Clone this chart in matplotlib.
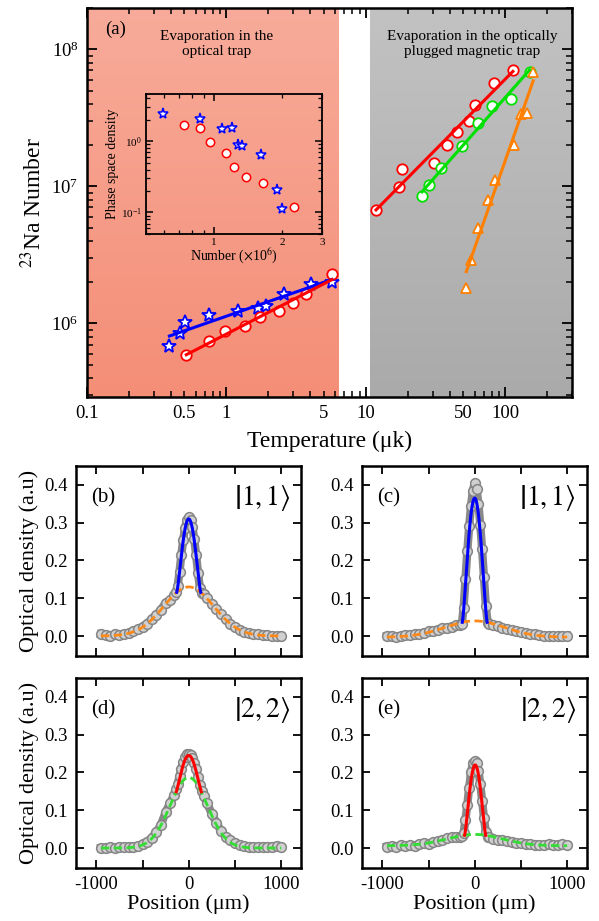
import numpy as np
import matplotlib.pyplot as plt
from matplotlib.colors import LinearSegmentedColormap
from matplotlib.ticker import FuncFormatter, NullFormatter, LogLocator

plt.rcParams['font.family'] = ['Liberation Serif', 'DejaVu Serif']
plt.rcParams['mathtext.fontset'] = 'stix'

# ---- panel (a): atom number vs temperature ----
star_T = [0.39, 0.467, 0.507, 0.755, 1.2, 1.67, 1.91, 2.57, 4.02, 5.7]
star_N = [6.8e5, 8.45e5, 1.02e6, 1.14e6, 1.22e6, 1.29e6, 1.33e6, 1.63e6, 1.93e6, 1.99e6]
circ_T = [0.515, 0.755, 0.97, 1.35, 1.73, 2.37, 2.98, 3.7, 5.7]
circ_N = [5.84e5, 7.4e5, 8.75e5, 9.5e5, 1.12e6, 1.22e6, 1.4e6, 1.63e6, 2.28e6]
red_T = [11.8, 17.2, 18.2, 30.7, 38, 44.9, 54.4, 60.1, 82.4, 113]
red_N = [6.7e6, 9.8e6, 1.33e7, 1.49e7, 1.99e7, 2.49e7, 3.0e7, 3.9e7, 5.65e7, 7.06e7]
green_T = [25.2, 28.5, 34.3, 49.1, 63.6, 80.2, 109, 149]
green_N = [8.5e6, 1.02e7, 1.35e7, 1.97e7, 2.92e7, 3.86e7, 4.37e7, 6.88e7]
tri_T = [52.4, 56.3, 63.6, 75, 83.8, 115, 130, 141.6, 158]
tri_N = [1.82e6, 2.9e6, 4.93e6, 7.9e6, 1.12e7, 2.0e7, 3.36e7, 3.45e7, 6.8e7]

# inset: phase space density vs number (x1e6)
psd_star_N = [0.593, 0.87, 1.08, 1.2, 1.28, 1.33, 1.61, 1.89, 2.0]
psd_star = [2.41, 2.05, 1.46, 1.54, 0.88, 0.85, 0.63, 0.207, 0.111]
psd_circ_N = [0.736, 0.867, 0.96, 1.13, 1.23, 1.39, 1.64, 2.26]
psd_circ = [1.71, 1.54, 0.97, 0.68, 0.434, 0.315, 0.26, 0.119]

# background regions (temperature bounds)
optical_region = (0.1, 6.3)
magnetic_region = (10.7, 300)

# ---- panels (b)-(e): density profiles ----
pos = np.r_[np.arange(-950, -199, 50), np.arange(-160, 161, 20), np.arange(200, 1001, 50)]
od_b = [0.005, 0.003, -0.001, 0.004, 0.002, 0.005, 0.008, 0.012, 0.018, 0.025, 0.033, 0.045, 0.056, 0.07, 0.088, 0.095,
        0.108, 0.116, 0.132, 0.17, 0.215, 0.255, 0.287, 0.307, 0.315, 0.308, 0.288, 0.256, 0.214, 0.168, 0.128, 0.115, 0.11,
        0.1, 0.086, 0.072, 0.057, 0.044, 0.033, 0.023, 0.016, 0.01, 0.008, 0.005, 0.004, 0.002, 0.002, 0.001, 0.0, 0.0]
od_c = [0.0, 0.001, -0.002, 0.0, 0.002, 0.003, 0.005, 0.006, 0.009, 0.012, 0.014, 0.017, 0.02, 0.022, 0.025, 0.028,
        0.029, 0.031, 0.075, 0.15, 0.225, 0.29, 0.345, 0.385, 0.405, 0.39, 0.35, 0.295, 0.23, 0.155, 0.08, 0.035, 0.031,
        0.03, 0.026, 0.022, 0.018, 0.015, 0.012, 0.01, 0.007, 0.005, 0.004, 0.002, 0.0, 0.001, 0.0, -0.001, 0.0, 0.001]
od_d = [0.0, 0.001, 0.002, 0.001, 0.003, 0.002, 0.003, 0.004, 0.006, 0.01, 0.017, 0.027, 0.042, 0.062, 0.095, 0.12,
        0.14, 0.155, 0.17, 0.19, 0.21, 0.228, 0.24, 0.248, 0.25, 0.247, 0.238, 0.226, 0.208, 0.188, 0.168, 0.152, 0.138,
        0.118, 0.09, 0.066, 0.045, 0.03, 0.02, 0.012, 0.008, 0.005, 0.003, 0.002, 0.003, 0.004, 0.003, 0.004, 0.006, 0.002]
od_e = [0.004, 0.006, 0.004, 0.007, 0.005, 0.008, 0.006, 0.01, 0.012, 0.011, 0.015, 0.018, 0.02, 0.026, 0.03, 0.028,
        0.03, 0.032, 0.04, 0.075, 0.115, 0.16, 0.2, 0.225, 0.23, 0.226, 0.205, 0.17, 0.125, 0.08, 0.042, 0.03, 0.028,
        0.025, 0.02, 0.022, 0.018, 0.016, 0.014, 0.012, 0.01, 0.01, 0.008, 0.009, 0.007, 0.01, 0.008, 0.009, 0.01, 0.008]

# bimodal fit parameters: (thermal amp, thermal sigma, offset), (condensate amp, radius, centre)
therm_b, cond_b = (0.13, 270, 0.0), (0.18, 130, 0)
therm_c, cond_c = (0.043, 320, -0.003), (0.325, 135, 0)
therm_d, cond_d = (0.187, 200, 0.0), (0.058, 135, 0)
therm_e, cond_e = (0.03, 300, 0.006), (0.184, 115, 5)

fig = plt.figure(figsize=(5.99, 9.21), dpi=100)

# ================= (a) =================
ax = fig.add_axes([0.1452, 0.569, 0.8098, 0.4223])
xmin, xmax, ymin, ymax = 0.1, 300, 2.9e5, 2.0e8


def band(ax, x0, x1, top, bottom):
    lx = np.log10([x0, x1])
    f = (lx - np.log10(xmin)) / (np.log10(xmax) - np.log10(xmin))
    cmap = LinearSegmentedColormap.from_list('g', [bottom, top])
    ax.imshow(np.linspace(0, 1, 256).reshape(-1, 1), cmap=cmap, origin='lower',
              extent=[f[0], f[1], 0, 1], transform=ax.transAxes, aspect='auto', zorder=0)


band(ax, *optical_region, '#f8ab9a', '#f48e77')
band(ax, *magnetic_region, '#c2c2c2', '#aaaaaa')


def powerfit(T, N):
    p = np.polyfit(np.log10(T), np.log10(N), 1)
    t = np.array([min(T), max(T)])
    return t, 10 ** np.polyval(p, np.log10(t))


mk = dict(ls='none', mfc='white', mew=1.3, zorder=3)
ax.plot(star_T, star_N, marker='*', ms=10, mec='#0000ff', **mk)
ax.plot(circ_T, circ_N, marker='o', ms=7.5, mec='#ff0000', **mk)
ax.plot(red_T, red_N, marker='o', ms=7.5, mec='#ff0000', **mk)
ax.plot(green_T, green_N, marker='o', ms=7.5, mec='#00e000', **mk)
ax.plot(tri_T, tri_N, marker='^', ms=7.5, mec='#ff8000', **mk)
for T, N, c in [(star_T, star_N, '#0000ff'), (circ_T, circ_N, '#ff0000'), (red_T, red_N, '#ff0000'),
                (green_T, green_N, '#00e000'), (tri_T, tri_N, '#ff8000')]:
    t, n = powerfit(T, N)
    ax.plot(t, n, color=c, lw=2.2, zorder=4)

ax.set_xscale('log')
ax.set_yscale('log')
ax.set_xlim(xmin, xmax)
ax.set_ylim(ymin, ymax)
ax.set_autoscale_on(False)
ax.xaxis.set_major_formatter(FuncFormatter(lambda v, p: f'{v:g}'))
ax.xaxis.set_minor_formatter(FuncFormatter(
    lambda v, p: f'{v:g}' if any(abs(v / m - 1) < 1e-6 for m in (0.5, 5, 50)) else ''))
ax.yaxis.set_minor_formatter(NullFormatter())
ax.tick_params(which='both', direction='in', top=True, right=True, labelsize=13.5, pad=6)
ax.tick_params(which='major', length=7, width=1.3)
ax.tick_params(which='minor', length=4, width=1.1)
for s in ax.spines.values():
    s.set_linewidth(1.8)
ax.set_xlabel('Temperature (μk)', fontsize=17, labelpad=6)
ax.set_ylabel(r'$^{23}$Na Number', fontsize=17, labelpad=4)
ax.text(0.037, 0.945, '(a)', transform=ax.transAxes, fontsize=13.5, va='center')
ax.text(0.268, 0.907, 'Evaporation in the\noptical trap', transform=ax.transAxes,
        fontsize=11, ha='center', va='center', linespacing=1.15)
ax.text(0.795, 0.907, 'Evaporation in the optically\nplugged magnetic trap', transform=ax.transAxes,
        fontsize=11, ha='center', va='center', linespacing=1.15)

# inset
axi = fig.add_axes([0.2437, 0.746, 0.2939, 0.152])
axi.patch.set_alpha(0)
axi.plot(psd_star_N, psd_star, marker='*', ms=8, mec='#0000ff', mfc='white', mew=1.1, ls='none')
axi.plot(psd_circ_N, psd_circ, marker='o', ms=6, mec='#ff0000', mfc='white', mew=1.1, ls='none')
axi.set_xscale('log')
axi.set_yscale('log')
axi.set_xlim(0.5, 3)
axi.set_ylim(0.05, 4.6)
axi.xaxis.set_major_formatter(FuncFormatter(lambda v, p: f'{v:g}'))
axi.xaxis.set_minor_locator(LogLocator(subs=np.arange(2, 10)))
axi.xaxis.set_minor_formatter(FuncFormatter(
    lambda v, p: f'{v:g}' if any(abs(v / m - 1) < 1e-6 for m in (2, 3)) else ''))
axi.yaxis.set_minor_formatter(NullFormatter())
axi.tick_params(which='both', direction='in', top=True, right=True, labelsize=8, pad=3)
axi.tick_params(which='major', length=5, width=1.1)
axi.tick_params(which='minor', length=3, width=0.9)
for s in axi.spines.values():
    s.set_linewidth(1.3)
axi.set_xlabel(r'Number ($\times$10$^6$)', fontsize=10, labelpad=0)
axi.set_ylabel('Phase space density', fontsize=10, labelpad=1)

# ================= (b)-(e) =================
def tf_profile(x, therm, cond):
    ta, ts, off = therm
    ca, cr, cx = cond
    g = ta * np.exp(-x ** 2 / (2 * ts ** 2)) + off
    u = np.clip(1 - ((x - cx) / cr) ** 2, 0, None)
    return g, g + ca * u ** 1.5


panels = [
    ('(b)', od_b, therm_b, cond_b, '#0000ff', '#ff8a1a', r'$\left|1,1\right\rangle$', [0.1269, 0.2877]),
    ('(c)', od_c, therm_c, cond_c, '#0000ff', '#ff8a1a', r'$\left|1,1\right\rangle$', [0.6043, 0.2877]),
    ('(d)', od_d, therm_d, cond_d, '#ff0000', '#33dd33', r'$\left|2,2\right\rangle$', [0.1269, 0.0575]),
    ('(e)', od_e, therm_e, cond_e, '#ff0000', '#33dd33', r'$\left|2,2\right\rangle$', [0.6043, 0.0575]),
]
for i, (lab, od, therm, cond, ccol, tcol, ket, (x0, y0)) in enumerate(panels):
    bx = fig.add_axes([x0, y0, 0.3764, 0.2063])
    bx.plot(pos, od, color='#8a8a8a', lw=6, marker='o', ms=7, mfc='#d0d0d0', mec='#858585', mew=1.1, zorder=2)
    xf = np.linspace(-950, 1000, 400)
    g, tot = tf_profile(xf, therm, cond)
    bx.plot(xf, g, color=tcol, lw=2, dashes=(3, 1.6), zorder=3)
    ca, cr, cx = cond
    xc = np.linspace(cx - cr, cx + cr, 200)
    g, tot = tf_profile(xc, therm, cond)
    bx.plot(xc, tot, color=ccol, lw=2.2, zorder=4)
    bx.set_xlim(-1220, 1220)
    bx.set_ylim(-0.053, 0.45)
    bx.set_xticks([-1000, -500, 0, 500, 1000], ['-1000', '', '0', '', '1000'])
    bx.set_yticks([0, 0.1, 0.2, 0.3, 0.4], ['0.0', '0.1', '0.2', '0.3', '0.4'])
    bx.tick_params(direction='in', top=True, right=True, length=6, width=1.3, labelsize=13.5, pad=6)
    for s in bx.spines.values():
        s.set_linewidth(1.8)
    if i < 2:
        bx.tick_params(labelbottom=False)
    else:
        bx.set_xlabel('Position (μm)', fontsize=16, labelpad=1)
    if i % 2 == 0:
        bx.set_ylabel('Optical density (a.u)', fontsize=16, labelpad=4)
    bx.text(0.065, 0.83, lab, transform=bx.transAxes, fontsize=15, va='center')
    bx.text(0.95, 0.83, ket, transform=bx.transAxes, fontsize=20, va='center', ha='right')

fig.savefig('out.png', dpi=100)
